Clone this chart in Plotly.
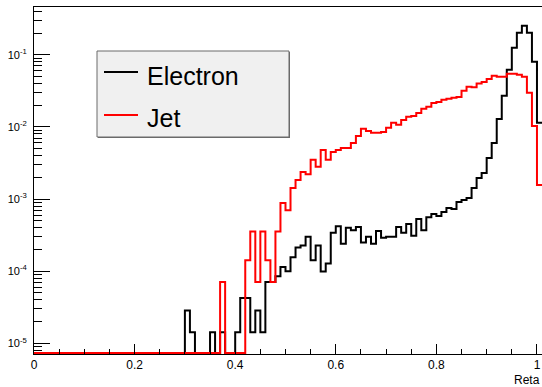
import plotly.graph_objects as go

# ---------------- data ----------------
bin_width = 0.01
bin_low_edges = [round(i * 0.01, 2) for i in range(101)]

electron = [
    0, 0, 0, 0, 0, 0, 0, 0, 0, 0,
    0, 0, 0, 0, 0, 0, 0, 0, 0, 0,
    0, 0, 0, 0, 0, 0, 0, 0, 0, 0,
    2.84e-5, 1.42e-5, 0, 0, 0, 1.42e-5, 0, 1.42e-5, 0, 0,
    1.42e-5, 4.26e-5, 4.26e-5, 1.42e-5, 2.84e-5, 1.42e-5, 7.1e-5, 7.1e-5, 8.5e-5, 1.14e-4,
    1.0e-4, 1.56e-4, 2.13e-4, 2.27e-4, 3.0e-4, 1.42e-4, 2.27e-4, 9.9e-5, 1.28e-4, 3.4e-4,
    4.2e-4, 2.4e-4, 4.0e-4, 3.7e-4, 4.1e-4, 2.5e-4, 3.0e-4, 2.4e-4, 3.6e-4, 2.9e-4,
    3.0e-4, 3.0e-4, 4.1e-4, 3.4e-4, 4.5e-4, 3.1e-4, 5.3e-4, 3.7e-4, 5.6e-4, 6.2e-4,
    5.8e-4, 6.6e-4, 7.5e-4, 7.3e-4, 9.1e-4, 9.7e-4, 1.03e-3, 1.42e-3, 1.96e-3, 2.3e-3,
    3.7e-3, 6.0e-3, 1.29e-2, 2.7e-2, 6.2e-2, 0.125, 0.202, 0.253, 0.202, 0.080,
    0.0114,
]

jet = [
    0, 0, 0, 0, 0, 0, 0, 0, 0, 0,
    0, 0, 0, 0, 0, 0, 0, 0, 0, 0,
    0, 0, 0, 0, 0, 0, 0, 0, 0, 0,
    0, 0, 0, 0, 0, 0, 0, 7.1e-5, 0, 0,
    0, 0, 1.42e-4, 3.55e-4, 7.1e-5, 3.55e-4, 1.42e-4, 7.1e-5, 3.55e-4, 8.8e-4,
    7.0e-4, 1.42e-3, 1.84e-3, 2.37e-3, 2.2e-3, 3.5e-3, 2.8e-3, 4.8e-3, 3.5e-3, 4.5e-3,
    4.8e-3, 5.1e-3, 5.1e-3, 6.0e-3, 7.5e-3, 9.4e-3, 8.8e-3, 8.3e-3, 8.3e-3, 8.5e-3,
    9.7e-3, 1.14e-2, 1.07e-2, 1.25e-2, 1.38e-2, 1.42e-2, 1.56e-2, 1.78e-2, 1.9e-2, 2.15e-2,
    2.22e-2, 2.37e-2, 2.45e-2, 2.53e-2, 2.6e-2, 3.16e-2, 3.6e-2, 3.55e-2, 4.0e-2, 4.2e-2,
    4.6e-2, 5.1e-2, 4.95e-2, 4.95e-2, 5.45e-2, 5.45e-2, 5.3e-2, 4.95e-2, 2.97e-2, 1.03e-2,
    1.56e-3,
]

x_tick_vals = [0, 0.2, 0.4, 0.6, 0.8, 1.0]
x_tick_text = ["0", "0.2", "0.4", "0.6", "0.8", "1"]
y_tick_vals = [1e-5, 1e-4, 1e-3, 1e-2, 1e-1]
y_tick_text = ["10<sup>-5</sup>", "10<sup>-4</sup>", "10<sup>-3</sup>",
               "10<sup>-2</sup>", "10<sup>-1</sup>"]
series_names = ["Electron", "Jet"]
series_colors = ["#000000", "#ff0000"]

# ---------------- layout constants ----------------
W, H = 542, 387
ML, MR, MT, MB = 34, 0, 7, 33
PW, PH = W - ML - MR, H - MT - MB
Y_LOG_RANGE = [-5.148, -0.338]
y_floor = 10 ** (Y_LOG_RANGE[0] + 0.014)  # empty bins drawn at the axis minimum (ROOT style)


def px_x(p):
    return (p - ML) / PW


def px_y(p):
    return (H - MB - p) / PH


def step_xy(vals):
    xs = list(bin_low_edges) + [round(bin_low_edges[-1] + bin_width, 2)]
    ys = [v if v > 0 else y_floor for v in vals]
    ys = ys + [ys[-1]]
    return xs, ys


fig = go.Figure()
for name, vals, col in zip(series_names, [electron, jet], series_colors):
    xs, ys = step_xy(vals)
    fig.add_trace(go.Scatter(x=xs, y=ys, mode="lines", name=name,
                             line=dict(color=col, width=2, shape="hv"),
                             showlegend=False))

minor_y = [k * 10 ** e for e in range(-6, 1) for k in range(2, 10)]

font = "Liberation Sans, Arial, sans-serif"
fig.update_layout(
    width=W, height=H,
    margin=dict(l=ML, r=MR, t=MT, b=MB, pad=0),
    paper_bgcolor="white", plot_bgcolor="white",
    font=dict(family=font, color="black"),
    xaxis=dict(range=[0, 1.01], showgrid=False, zeroline=False,
               showline=True, linecolor="black", linewidth=1, mirror=True,
               ticks="inside", ticklen=10, tickcolor="black", tickwidth=1,
               tickvals=x_tick_vals, ticktext=x_tick_text,
               tickfont=dict(size=12, family=font),
               minor=dict(dtick=0.05, tick0=0, ticks="inside", ticklen=5,
                          tickcolor="black", showgrid=False)),
    yaxis=dict(type="log", range=Y_LOG_RANGE, showgrid=False, zeroline=False,
               showline=True, linecolor="black", linewidth=1, mirror=False,
               ticks="inside", ticklen=16, tickcolor="black", tickwidth=1,
               tickvals=y_tick_vals, ticktext=y_tick_text,
               tickfont=dict(size=11, family=font),
               ticklabelstandoff=4,
               minor=dict(tickvals=minor_y, ticks="inside", ticklen=8,
                          tickcolor="black", showgrid=False)),
)

# x-axis title, right aligned at the end of the axis (ROOT style)
fig.add_annotation(text="Reta", xref="paper", yref="paper", x=1.0, y=px_y(380),
                   xanchor="right", yanchor="middle", showarrow=False,
                   font=dict(size=12, family=font, color="black"))

# legend box drawn like a ROOT TLegend
bx0, bx1, by0, by1 = 97, 289, 51, 137
fig.add_shape(type="rect", xref="paper", yref="paper",
              x0=px_x(bx0 + 1), x1=px_x(bx1 + 1), y0=px_y(by1 + 1), y1=px_y(by0 + 1),
              fillcolor="#6a6a6a", line=dict(width=0))
fig.add_shape(type="rect", xref="paper", yref="paper",
              x0=px_x(bx0), x1=px_x(bx1), y0=px_y(by1), y1=px_y(by0),
              fillcolor="#f0f0f0", line=dict(color="#6a6a6a", width=1))
for name, col, ly, ty in zip(series_names, series_colors, [72, 115], [75.5, 118]):
    fig.add_shape(type="line", xref="paper", yref="paper",
                  x0=px_x(104), x1=px_x(138), y0=px_y(ly), y1=px_y(ly),
                  line=dict(color=col, width=2))
    fig.add_annotation(text=name, xref="paper", yref="paper", x=px_x(145), y=px_y(ty),
                       xanchor="left", yanchor="middle", showarrow=False,
                       font=dict(size=25, family=font, color="black"))

fig.write_html("out.html")
